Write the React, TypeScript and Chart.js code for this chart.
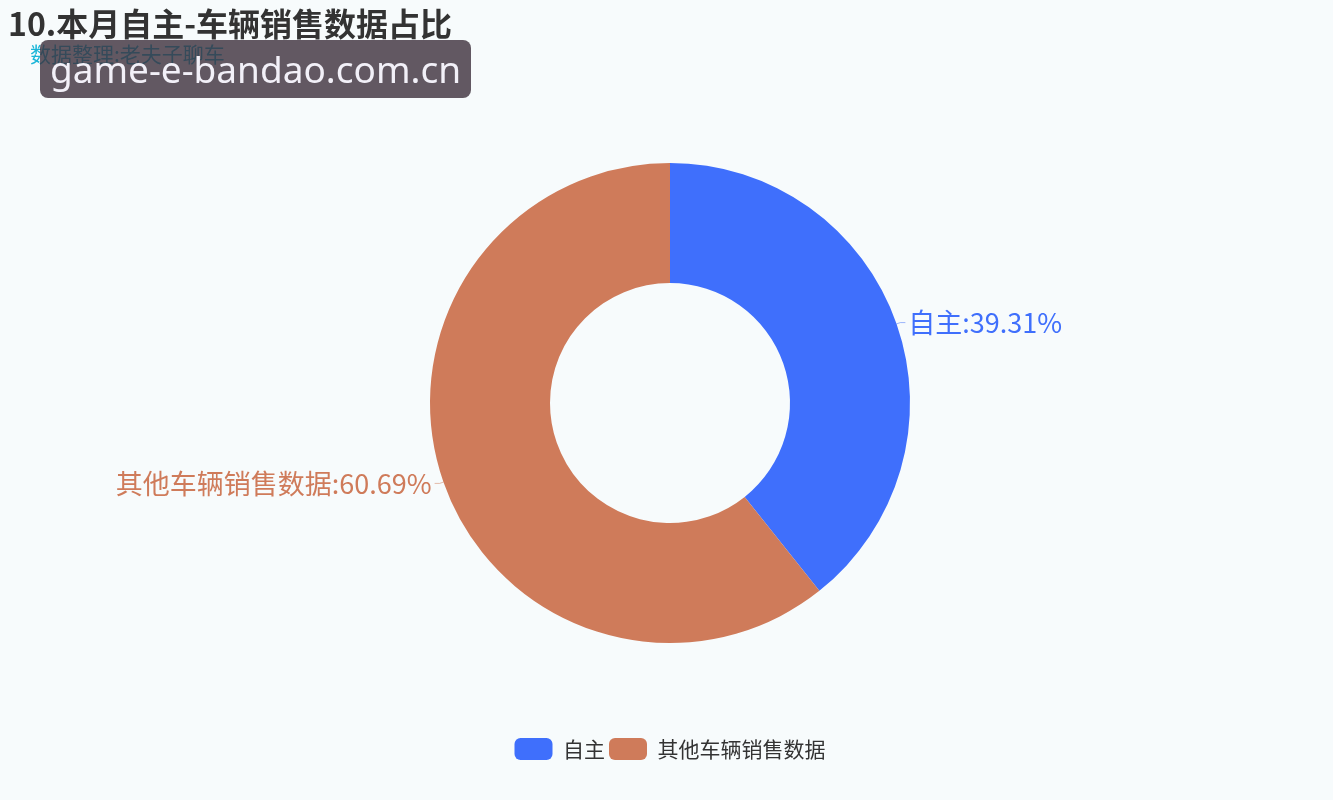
import React, { useRef, useEffect } from "react";
import { Chart, registerables } from "chart.js";

Chart.register(...registerables);

const categories = ["自主", "其他车辆销售数据"];
const shares = [39.31, 60.69];
const colors = ["#3f6ffc", "#cf7b5a"];

const FONT = '"Noto Sans CJK SC", "Noto Sans", sans-serif';

// outside labels with short leader lines
const sliceLabels = {
  id: "sliceLabels",
  afterDatasetsDraw(chart: any) {
    const ctx = chart.ctx;
    const meta = chart.getDatasetMeta(0);
    meta.data.forEach((arc: any, i: number) => {
      const { x, y, startAngle, endAngle, outerRadius } = arc.getProps(
        ["x", "y", "startAngle", "endAngle", "outerRadius"],
        true
      );
      const mid = (startAngle + endAngle) / 2;
      const cos = Math.cos(mid);
      const sin = Math.sin(mid);
      const right = cos >= 0;
      const p1x = x + outerRadius * cos;
      const p1y = y + outerRadius * sin;
      const p2x = x + (outerRadius + 4) * cos;
      const p2y = y + (outerRadius + 4) * sin;
      const p3x = p2x + (right ? 5 : -5);
      ctx.save();
      ctx.strokeStyle = colors[i];
      ctx.globalAlpha = 0.5;
      ctx.lineWidth = 1;
      ctx.beginPath();
      ctx.moveTo(p1x, p1y);
      ctx.lineTo(p2x, p2y);
      ctx.lineTo(p3x, p2y);
      ctx.stroke();
      ctx.globalAlpha = 1;
      ctx.fillStyle = colors[i];
      ctx.font = `27px ${FONT}`;
      ctx.textBaseline = "middle";
      ctx.textAlign = right ? "left" : "right";
      ctx.fillText(
        `${categories[i]}:${shares[i].toFixed(2)}%`,
        p3x + (right ? 3 : -3),
        p2y
      );
      ctx.restore();
    });
  },
};

export default function App() {
  const canvasRef = useRef<HTMLCanvasElement | null>(null);

  useEffect(() => {
    document.body.style.margin = "0";
    if (!canvasRef.current) return;
    const chart = new Chart(canvasRef.current, {
      type: "doughnut",
      data: {
        labels: categories,
        datasets: [
          {
            data: shares,
            backgroundColor: colors,
            borderWidth: 0,
            hoverOffset: 0,
          },
        ],
      },
      options: {
        responsive: false,
        animation: false,
        radius: 240,
        cutout: "50%",
        layout: {
          padding: { top: 72, bottom: 30, left: 7, right: 0 },
        },
        plugins: {
          tooltip: { enabled: false },
          legend: {
            position: "bottom",
            labels: {
              color: "#333",
              font: { size: 21, family: FONT },
              boxWidth: 38,
              boxHeight: 22,
              useBorderRadius: true,
              borderRadius: 6,
              padding: 4,
            },
          },
        },
      } as any,
      plugins: [sliceLabels],
    });
    return () => chart.destroy();
  }, []);

  return (
    <div
      style={{
        position: "relative",
        width: 1333,
        height: 800,
        background: "#f7fbfc",
        overflow: "hidden",
        fontFamily: FONT,
      }}
    >
      <canvas
        ref={canvasRef}
        width={1333}
        height={800}
        style={{ position: "absolute", left: 0, top: 0 }}
      />
      <div
        style={{
          position: "absolute",
          left: 8,
          top: 2,
          fontSize: 32,
          fontWeight: "bold",
          color: "#333",
          lineHeight: "40px",
          whiteSpace: "nowrap",
        }}
      >
        10.本月自主-车辆销售数据占比
      </div>
      <div
        style={{
          position: "absolute",
          left: 30,
          top: 41,
          fontSize: 21,
          color: "#1ab5d8",
          lineHeight: "24px",
          whiteSpace: "nowrap",
        }}
      >
        数据整理:老夫子聊车
      </div>
      <div
        style={{
          position: "absolute",
          left: 40,
          top: 40,
          width: 431,
          height: 58,
          borderRadius: 8,
          background: "rgba(60,47,59,0.8)",
          color: "#f2f0f8",
          fontFamily: '"Noto Sans", sans-serif',
          fontSize: 37,
          lineHeight: "58px",
          textAlign: "center",
          whiteSpace: "nowrap",
        }}
      >
        game-e-bandao.com.cn
      </div>
    </div>
  );
}
